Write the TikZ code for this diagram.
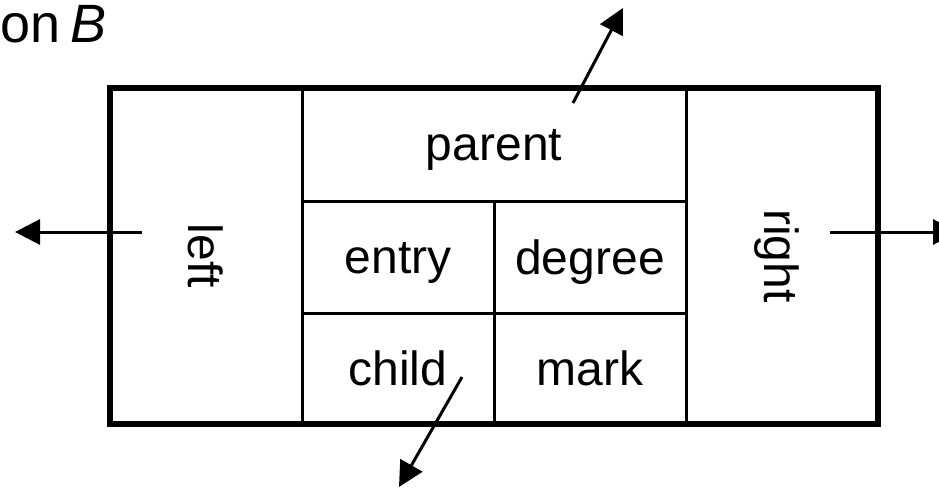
\documentclass[tikz,border=0pt]{standalone}
\usepackage{fontspec}
\setmainfont{Liberation Sans}
\usetikzlibrary{positioning}
\usetikzlibrary{arrows.meta}

\tikzset{
	cell/.style={draw,line width=3pt,inner sep=0pt,outer sep=0pt,minimum width=192pt,minimum height=111pt,text depth=0pt,font=\fontsize{48}{56}\selectfont},
	ptr/.style={line width=3pt,-{Triangle[length=25pt,width=25pt]}}
}

\begin{document}
\begin{tikzpicture}[x=1pt,y=1pt]
		\clip (0,0) rectangle (939,488);
		\node [anchor=base west,inner sep=0pt,font=\fontsize{54}{60}\selectfont] (title) at (0,445) {on\hspace{10pt}\textit{B}};
		\node [cell,minimum width=384pt,minimum height=114pt] (parent) at (494,343) {parent};
		\node [cell,anchor=north west] (entry) at (parent.south west) {entry};
		\node [cell,anchor=north west] (degree) at (entry.north east) {degree};
		\node [cell,anchor=north west] (child) at (entry.south west) {child};
		\node [cell,anchor=north west] (mark) at (child.north east) {mark};
		\node [cell,rotate=-90,minimum width=336pt,minimum height=192pt] (leftcol) at (206,232) {left};
		\node [cell,rotate=-90,minimum width=336pt,minimum height=192pt] (rightcol) at (782,232) {right};
		\draw [line width=6pt] (110,64) rectangle (878,400);
		\coordinate (lout) at (15,256);
		\coordinate (rout) at (958,256);
		\coordinate (pout) at (623,480);
		\coordinate (cout) at (399,1);
		\draw [ptr] (142,256) -- (lout);
		\draw [ptr] (830,256) -- (rout);
		\draw [ptr] (573,385) -- (pout);
		\draw [ptr] (462,111) -- (cout);
	\end{tikzpicture}
\end{document}
